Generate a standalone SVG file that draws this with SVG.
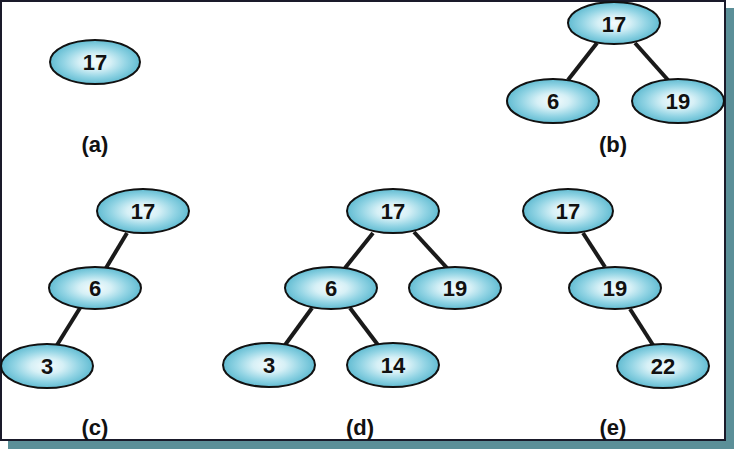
<svg xmlns="http://www.w3.org/2000/svg" width="734" height="449" viewBox="0 0 734 449">
<defs>
<radialGradient id="g" cx="0.5" cy="0.5" r="0.5" fx="0.5" fy="0.5">
<stop offset="0" stop-color="#f6fcfd"/>
<stop offset="0.35" stop-color="#d6f0f6"/>
<stop offset="0.7" stop-color="#92d4e4"/>
<stop offset="1" stop-color="#62bcd2"/>
</radialGradient>
<style>
.n ellipse{fill:url(#g);stroke:#111;stroke-width:2}
.n text{font-family:"Liberation Sans",Arial,sans-serif;font-weight:bold;font-size:22px;fill:#111;text-anchor:middle;dominant-baseline:central}
.lbl{font-family:"Liberation Sans",Arial,sans-serif;font-weight:bold;font-size:22px;fill:#111;text-anchor:middle;dominant-baseline:central}
.e line{stroke:#1a1a1a;stroke-width:4;stroke-linecap:butt}
</style>
</defs>
<rect x="8" y="8" width="726" height="441" fill="#5b8f98"/>
<rect x="1" y="1" width="724" height="439" fill="#fff" stroke="#1a1a2a" stroke-width="2"/>
<g id="connectors" class="e">
<line x1="597" y1="43" x2="568" y2="80"/>
<line x1="635" y1="43" x2="668" y2="80"/>
<line x1="127" y1="233" x2="106" y2="268"/>
<line x1="80" y1="308" x2="57" y2="345"/>
<line x1="373" y1="233" x2="345" y2="268"/>
<line x1="414" y1="232" x2="447" y2="268"/>
<line x1="312" y1="308" x2="285" y2="345"/>
<line x1="350" y1="308" x2="378" y2="345"/>
<line x1="583" y1="233" x2="605" y2="267"/>
<line x1="630" y1="309" x2="653" y2="345"/>
</g>
<g id="a17" class="n"><ellipse cx="95" cy="62" rx="45" ry="22"/><text x="95" y="62">17</text></g>
<g id="b17" class="n"><ellipse cx="614" cy="23" rx="46" ry="21"/><text x="614" y="24">17</text></g>
<g id="b6" class="n"><ellipse cx="553" cy="101" rx="46" ry="22"/><text x="553" y="101">6</text></g>
<g id="b19" class="n"><ellipse cx="678" cy="101" rx="46" ry="22"/><text x="678" y="101">19</text></g>
<g id="c17" class="n"><ellipse cx="143" cy="211" rx="46" ry="22"/><text x="143" y="211">17</text></g>
<g id="c6" class="n"><ellipse cx="95" cy="288" rx="46" ry="21"/><text x="95" y="288">6</text></g>
<g id="c3" class="n"><ellipse cx="47" cy="366" rx="46" ry="22"/><text x="47" y="366">3</text></g>
<g id="d17" class="n"><ellipse cx="393" cy="211" rx="46" ry="22"/><text x="393" y="211">17</text></g>
<g id="d6" class="n"><ellipse cx="331" cy="288" rx="46" ry="21"/><text x="331" y="288">6</text></g>
<g id="d19" class="n"><ellipse cx="455" cy="288" rx="46" ry="21"/><text x="455" y="288">19</text></g>
<g id="d3" class="n"><ellipse cx="269" cy="365" rx="46" ry="22"/><text x="269" y="365">3</text></g>
<g id="d14" class="n"><ellipse cx="393" cy="365" rx="46" ry="22"/><text x="393" y="365">14</text></g>
<g id="e17" class="n"><ellipse cx="568" cy="211" rx="45" ry="22"/><text x="568" y="211">17</text></g>
<g id="e19" class="n"><ellipse cx="615" cy="288" rx="46" ry="21"/><text x="615" y="288">19</text></g>
<g id="e22" class="n"><ellipse cx="663" cy="366" rx="46" ry="22"/><text x="663" y="366">22</text></g>
<text class="lbl" x="95" y="144">(a)</text>
<text class="lbl" x="613" y="144">(b)</text>
<text class="lbl" x="95" y="427">(c)</text>
<text class="lbl" x="360" y="427">(d)</text>
<text class="lbl" x="613" y="427">(e)</text>
</svg>
